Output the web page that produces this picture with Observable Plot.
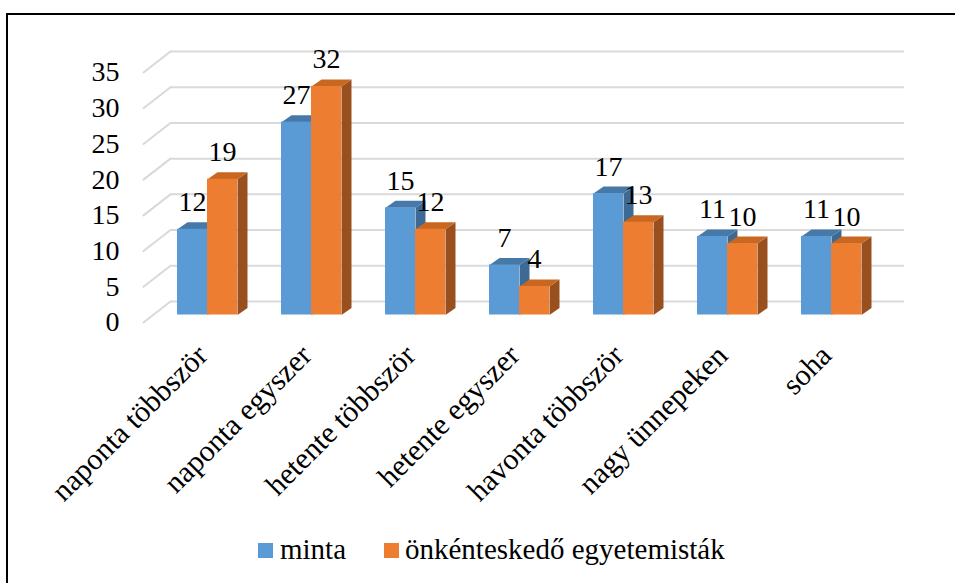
<!DOCTYPE html>
<html>
<head>
<meta charset="utf-8">
<script src="https://cdn.jsdelivr.net/npm/d3@7"></script>
<script src="https://cdn.jsdelivr.net/npm/@observablehq/plot@0.6"></script>
<style>
  html, body { margin: 0; padding: 0; background: #fff; overflow: hidden; }
  #wrap { position: relative; width: 955px; height: 583px; overflow: hidden; font-family: "Liberation Serif", "Times New Roman", serif; }
  #frame { position: absolute; left: 6px; top: 13px; width: 1000px; height: 700px; border: 2px solid #000; box-sizing: border-box; }
  #chart { position: absolute; left: 0; top: 0; }
  .sw { position: absolute; width: 15px; height: 15px; top: 543px; }
  .lt { position: absolute; font-size: 29px; line-height: 29px; top: 535px; white-space: nowrap; color: #000; }
</style>
</head>
<body>
<div id="wrap">
  <div id="frame"></div>
  <div id="chart"></div>
  <div class="sw" style="left:258px;background:#5B9BD5"></div>
  <div class="lt" style="left:280px">minta</div>
  <div class="sw" style="left:384px;background:#ED7D31"></div>
  <div class="lt" style="left:405px">önkénteskedő egyetemisták</div>
</div>
<script>
const categories = ["naponta többször", "naponta egyszer", "hetente többször", "hetente egyszer", "havonta többször", "nagy ünnepeken", "soha"];
const minta = [12, 27, 15, 7, 17, 11, 11];
const onkentes = [19, 32, 12, 4, 13, 10, 10];
const yTicks = [0, 5, 10, 15, 20, 25, 30, 35];

const blueData = categories.map((c, i) => ({cat: c, value: minta[i]}));
const orangeData = categories.map((c, i) => ({cat: c, value: onkentes[i]}));

const W = 30, DX = 10, DY = -7;
const lineShape = {draw(c, l) { c.moveTo(0, 0); c.lineTo(0, -l); }};
const topShape = (x0) => ({draw(c) {
  c.moveTo(x0, 0); c.lineTo(x0 + W, 0); c.lineTo(x0 + W + DX, DY); c.lineTo(x0 + DX, DY); c.closePath();
}});
const sideShape = (x1) => ({draw(c, l) {
  c.moveTo(x1, 0); c.lineTo(x1 + DX, DY); c.lineTo(x1 + DX, l + DY); c.lineTo(x1, l); c.closePath();
}});

const numSize = 28;
const catSize = 30;
const chart = Plot.plot({
  width: 955,
  height: 530,
  marginLeft: 143,
  marginRight: 78,
  marginTop: 40,
  marginBottom: 208,
  style: {fontFamily: "'Liberation Serif', 'Times New Roman', serif", fontSize: "28px", background: "transparent", overflow: "visible", color: "#000"},
  x: {type: "band", domain: categories, range: [151.6, 885.4], paddingInner: 0.4277, paddingOuter: 0.2139, align: 0.5},
  y: {domain: [0, 35], range: [314.5, 64.5]},
  length: {domain: [0, 35], range: [0, 250]},
  marks: [
    Plot.ruleY(yTicks, {y: d => d, dx: 27, dy: -13.5, stroke: "#d9d9d9", strokeWidth: 2}),
    Plot.vector(yTicks, {y: d => d, frameAnchor: "left", dy: 7.5, length: 34.2, rotate: 52.1, anchor: "start", shape: lineShape, stroke: "#d9d9d9", strokeWidth: 2}),
    Plot.axisY({ticks: yTicks, tickSize: 0, tickPadding: 24, dy: 7.5, fontSize: numSize, label: null}),
    Plot.axisX({tickRotate: -45, tickSize: 0, tickPadding: 24, dx: -5, dy: 4, fontSize: catSize, label: null}),
    // blue series
    Plot.vector(blueData, {x: "cat", y: "value", length: "value", anchor: "start", shape: sideShape(0), fill: "#3D6A94", stroke: "none"}),
    Plot.vector(blueData, {x: "cat", y: "value", length: 1, anchor: "start", shape: topShape(-W), fill: "#4779A8", stroke: "none"}),
    Plot.barY(blueData, {x: "cat", y: "value", fill: "#5B9BD5", insetRight: 30}),
    // orange series
    Plot.vector(orangeData, {x: "cat", y: "value", length: "value", anchor: "start", shape: sideShape(W), fill: "#9A4F1E", stroke: "none"}),
    Plot.vector(orangeData, {x: "cat", y: "value", length: 1, anchor: "start", shape: topShape(0), fill: "#C9661F", stroke: "none"}),
    Plot.barY(orangeData, {x: "cat", y: "value", fill: "#ED7D31", insetLeft: 30}),
    // value labels
    Plot.text(blueData, {x: "cat", y: "value", text: d => String(d.value), dx: -15, dy: -18, lineAnchor: "bottom", fontSize: numSize}),
    Plot.text(orangeData, {x: "cat", y: "value", text: d => String(d.value), dx: 15, dy: -18, lineAnchor: "bottom", fontSize: numSize})
  ]
});
document.getElementById("chart").appendChild(chart);
</script>
</body>
</html>
